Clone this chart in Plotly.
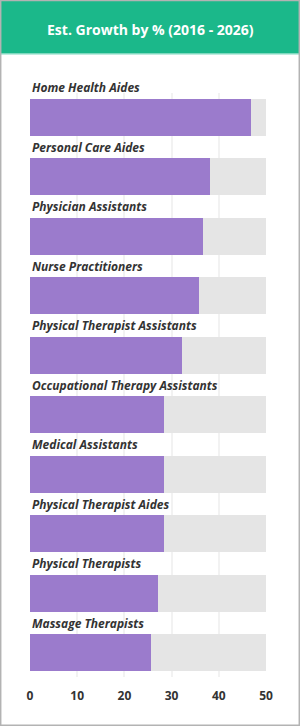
import plotly.graph_objects as go

categories = [
    "Home Health Aides",
    "Personal Care Aides",
    "Physician Assistants",
    "Nurse Practitioners",
    "Physical Therapist Assistants",
    "Occupational Therapy Assistants",
    "Medical Assistants",
    "Physical Therapist Aides",
    "Physical Therapists",
    "Massage Therapists",
]
growth = [46.8, 38.2, 36.6, 35.7, 32.2, 28.3, 28.3, 28.3, 27.2, 25.6]
max_value = 50
x_ticks = [0, 10, 20, 30, 40, 50]
title_text = "Est. Growth by % (2016 - 2026)"

W, H = 300, 726
ML, MR, MT, MB = 30, 34, 93, 49
PW, PH = W - ML - MR, H - MT - MB

def px(x):
    return (x - ML) / PW

def py(y):
    return 1 - (y - MT) / PH

pos = list(range(len(categories)))
bar_w = 0.617
Y_TOP, Y_BOT = -0.408, 9.408
FONT = "Open Sans"

def data_to_paper_y(d):
    return 1 - (d - Y_TOP) / (Y_BOT - Y_TOP)

fig = go.Figure()
fig.add_trace(go.Bar(
    y=pos, x=[max_value] * len(categories), orientation="h",
    width=bar_w, marker=dict(color="#e5e5e5", line=dict(width=0)),
    hoverinfo="skip", showlegend=False,
))
fig.add_trace(go.Bar(
    y=pos, x=growth, orientation="h",
    width=bar_w, marker=dict(color="#9b7bcc", line=dict(width=0)),
    hoverinfo="skip", showlegend=False,
))

annotations = []
for i, c in enumerate(categories):
    annotations.append(dict(
        x=0, y=data_to_paper_y(i - bar_w / 2 - 11 / 59.5), xref="x", yref="paper",
        text=c, showarrow=False, xanchor="left", yanchor="middle", xshift=0,
        font=dict(family=FONT, size=12, color="#333333", weight="bold", style="italic"),
    ))
annotations.append(dict(
    x=px(150), y=py(29), xref="paper", yref="paper", text=title_text,
    showarrow=False, xanchor="center", yanchor="middle",
    font=dict(family=FONT, size=14, color="#ffffff", weight="bold"),
))

shapes = [
    dict(type="rect", xref="paper", yref="paper", x0=px(0), x1=px(300), y0=py(0), y1=py(53),
         fillcolor="#1bb88a", line=dict(width=0), layer="above"),
    dict(type="rect", xref="paper", yref="paper", x0=px(0), x1=px(300), y0=py(53), y1=py(54.5),
         fillcolor="#7fd9bf", line=dict(width=0), layer="above"),
    dict(type="rect", xref="paper", yref="paper", x0=px(0.7), x1=px(299.3), y0=py(0.5), y1=py(725.3),
         fillcolor="rgba(0,0,0,0)", line=dict(width=1.5, color="#b3b3b3"), layer="above"),
]

fig.update_layout(
    width=W, height=H,
    margin=dict(l=ML, r=MR, t=MT, b=MB, pad=0),
    paper_bgcolor="#ffffff", plot_bgcolor="#ffffff",
    barmode="overlay", bargap=0,
    annotations=annotations, shapes=shapes,
    xaxis=dict(range=[0, max_value], tickvals=x_ticks, showgrid=True, gridcolor="#f2f2f2",
               gridwidth=1.5, zeroline=False, showline=False, ticks="",
               ticklabelstandoff=10,
               tickfont=dict(family=FONT, size=12, color="#333333", weight="bold"),
               fixedrange=True),
    yaxis=dict(range=[Y_BOT, Y_TOP], showticklabels=False, showgrid=False, zeroline=False,
               showline=False, fixedrange=True),
    font=dict(family=FONT),
)

fig.write_html("out.html", config={"displayModeBar": False})
